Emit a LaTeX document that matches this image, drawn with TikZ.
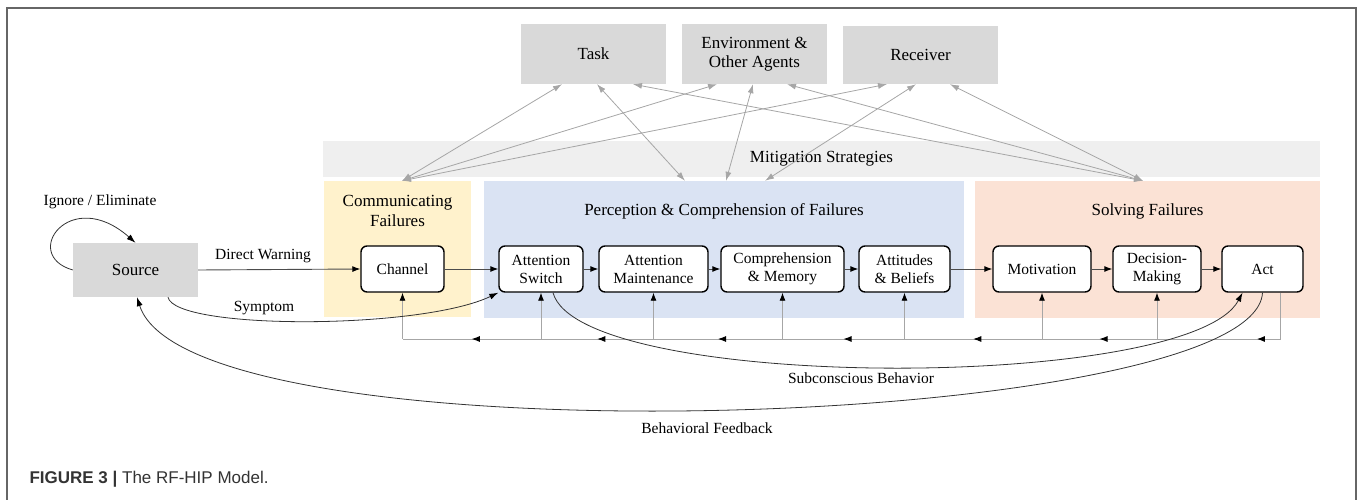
\documentclass[tikz,border=0pt]{standalone}
\usepackage{fontspec}
\setmainfont{Liberation Serif}
\newfontfamily\capfont{Liberation Sans}
\usetikzlibrary{arrows.meta,calc,decorations.markings}

\definecolor{boxgray}{HTML}{D9D9D9}
\definecolor{bandgray}{HTML}{EFEFEF}
\definecolor{commyellow}{HTML}{FFF2CC}
\definecolor{percblue}{HTML}{DAE3F3}
\definecolor{solvorange}{HTML}{FBE2D5}
\definecolor{linkgray}{HTML}{A6A6A6}

\tikzset{
    bigtext/.style={font=\rmfamily\fontsize{17}{19.5}\selectfont},
    factor/.style={rectangle, fill=boxgray, bigtext, minimum width=145pt, minimum height=60pt, align=center, inner sep=2pt},
    stage/.style={rectangle, rounded corners=6pt, draw=black, line width=1.4pt, fill=white, minimum height=46pt, align=center, inner sep=2pt},
    group/.style={rectangle, inner sep=0pt, bigtext},
    grouptitle/.style={align=center, bigtext},
    flow/.style={draw=black!70, line width=0.9pt, -{Latex[length=8pt,width=6pt,color=black]}},
    curved/.style={draw=black!80, line width=0.8pt, -{Latex[length=9pt,width=6pt,color=black]}},
    link/.style={draw=linkgray, line width=0.8pt, {Latex[length=9pt,width=6pt]}-{Latex[length=9pt,width=6pt]}},
    fb/.style={draw=linkgray, line width=0.9pt},
    fbup/.style={fb, -{Latex[length=8pt,width=6pt,color=black]}},
    fbmid/.style={fb, postaction={decorate}, decoration={markings, mark=at position #1 with {\arrow{Latex[length=8pt,width=6pt,color=black]}}}},
    fbmid/.default=0.5
}

\begin{document}
\begin{tikzpicture}[x=1pt, y=-1pt, font=\rmfamily\fontsize{15.5}{18}\selectfont]
\useasboundingbox (0,0) rectangle (1358,500);

% ----------------------------
% Frame and caption
% ----------------------------
\draw[black!60, line width=1.5pt] (7,500) -- (7,8) -- (1356,8) -- (1356,500);
\node[anchor=west, font=\capfont\fontsize{17}{20}\selectfont, text=black!80] (caption) at (26,479) {\textbf{FIGURE 3 |} The RF-HIP Model.};

% ----------------------------
% Factors on top
% ----------------------------
\node[factor] (task) at (593.5,54) {Task};
\node[factor] (env) at (754.5,54) {Environment \&\\Other Agents};
\node[factor, minimum width=155pt, minimum height=58pt] (rec) at (920.5,55) {Receiver};

% ----------------------------
% Background groups
% ----------------------------
\node[group, fill=bandgray, minimum width=997pt, minimum height=36pt] (mitig) at (821.5,159) {Mitigation Strategies};
\node[group, fill=commyellow, minimum width=147pt, minimum height=136pt] (comm) at (397.5,249) {};
\node[group, fill=percblue, minimum width=480pt, minimum height=137pt] (perc) at (724,249.5) {};
\node[group, fill=solvorange, minimum width=345pt, minimum height=137pt] (solve) at (1147.5,249.5) {};

\node[grouptitle] (commtitle) at ($(comm.north)+(0,30)$) {Communicating\\Failures};
\node[grouptitle] (perctitle) at ($(perc.north)+(0,31)$) {Perception \& Comprehension of Failures};
\node[grouptitle] (solvetitle) at ($(solve.north)+(0,31)$) {Solving Failures};

% ----------------------------
% Source and stages
% ----------------------------
\node[factor, minimum width=125pt, minimum height=54pt] (source) at (135.5,270) {Source};

\node[stage, minimum width=83pt] (chan) at (402.5,269) {Channel};
\node[stage, minimum width=84pt] (aswitch) at (541,269) {Attention\\Switch};
\node[stage, minimum width=109pt] (amaint) at (653.5,269) {Attention\\Maintenance};
\node[stage, minimum width=123pt] (comp) at (782.5,269) {Comprehension\\\& Memory};
\node[stage, minimum width=91pt] (attit) at (904.5,269) {Attitudes\\\& Beliefs};
\node[stage, minimum width=98pt] (motiv) at (1042,269) {Motivation};
\node[stage, minimum width=88pt] (decis) at (1157,269) {Decision-\\Making};
\node[stage, minimum width=81pt] (act) at (1262.5,269) {Act};

% ----------------------------
% Links to mitigation
% ----------------------------
\draw[link] ([xshift=-31.5pt]task.south) -- ([xshift=4.5pt]comm.north);
\draw[link] ([xshift=3.5pt]task.south) -- ([xshift=-39pt]perc.north);
\draw[link] ([xshift=39.5pt]task.south) -- ([xshift=-4.5pt]solve.north);
\draw[link] ([xshift=-37.5pt]env.south) -- ([xshift=4.5pt]comm.north);
\draw[link] ([xshift=-1.5pt]env.south) -- ([xshift=2pt]perc.north);
\draw[link] ([xshift=32.5pt]env.south) -- ([xshift=-4.5pt]solve.north);
\draw[link] ([xshift=-33.5pt]rec.south) -- ([xshift=4.5pt]comm.north);
\draw[link] ([xshift=-4.5pt]rec.south) -- ([xshift=41pt]perc.north);
\draw[link] ([xshift=29.5pt]rec.south) -- ([xshift=-4.5pt]solve.north);

% ----------------------------
% Main flow
% ----------------------------
\draw[flow] (source.east) -- node[pos=0.4, above=3pt] (warnlbl) {Direct Warning} (chan.west);
\foreach \a/\b in {chan/aswitch, aswitch/amaint, amaint/comp, comp/attit, attit/motiv, motiv/decis, decis/act}
  \draw[flow] (\a) -- (\b);

% ----------------------------
% Feedback line
% ----------------------------
\coordinate (fbl) at (0,339);
\draw[fbmid=0.41] ([xshift=17.5pt]act.south) |- (decis.south |- fbl);
\foreach \a/\b in {decis/motiv, motiv/attit, attit/comp, comp/amaint, amaint/aswitch, aswitch/chan}
  \draw[fbmid] (\a.south |- fbl) -- (\b.south |- fbl);
\foreach \n in {chan, aswitch, amaint, comp, attit, motiv, decis}
  \draw[fbup] (\n.south |- fbl) -- (\n.south);

% ----------------------------
% Curved connectors
% ----------------------------
\draw[curved] (source.west) .. controls (20,255) and (70,185) .. (source.north);
\node (ignorelbl) at (100,202) {Ignore / Eliminate};

\draw[curved] ([xshift=32.5pt]source.south) .. controls (175,330) and (420,330) .. (aswitch.south west);
\node (symplbl) at (264,308) {Symptom};

\draw[curved] ([xshift=12pt]aswitch.south) .. controls (580,392) and (1190,392) .. ([xshift=-20pt]act.south);
\node (sublbl) at (861,378) {Subconscious Behavior};

\draw[curved] (act.south) .. controls (1255,430) and (190,465) .. ([xshift=1.5pt]source.south);
\node (behlbl) at (707,428) {Behavioral Feedback};

\end{tikzpicture}
\end{document}
